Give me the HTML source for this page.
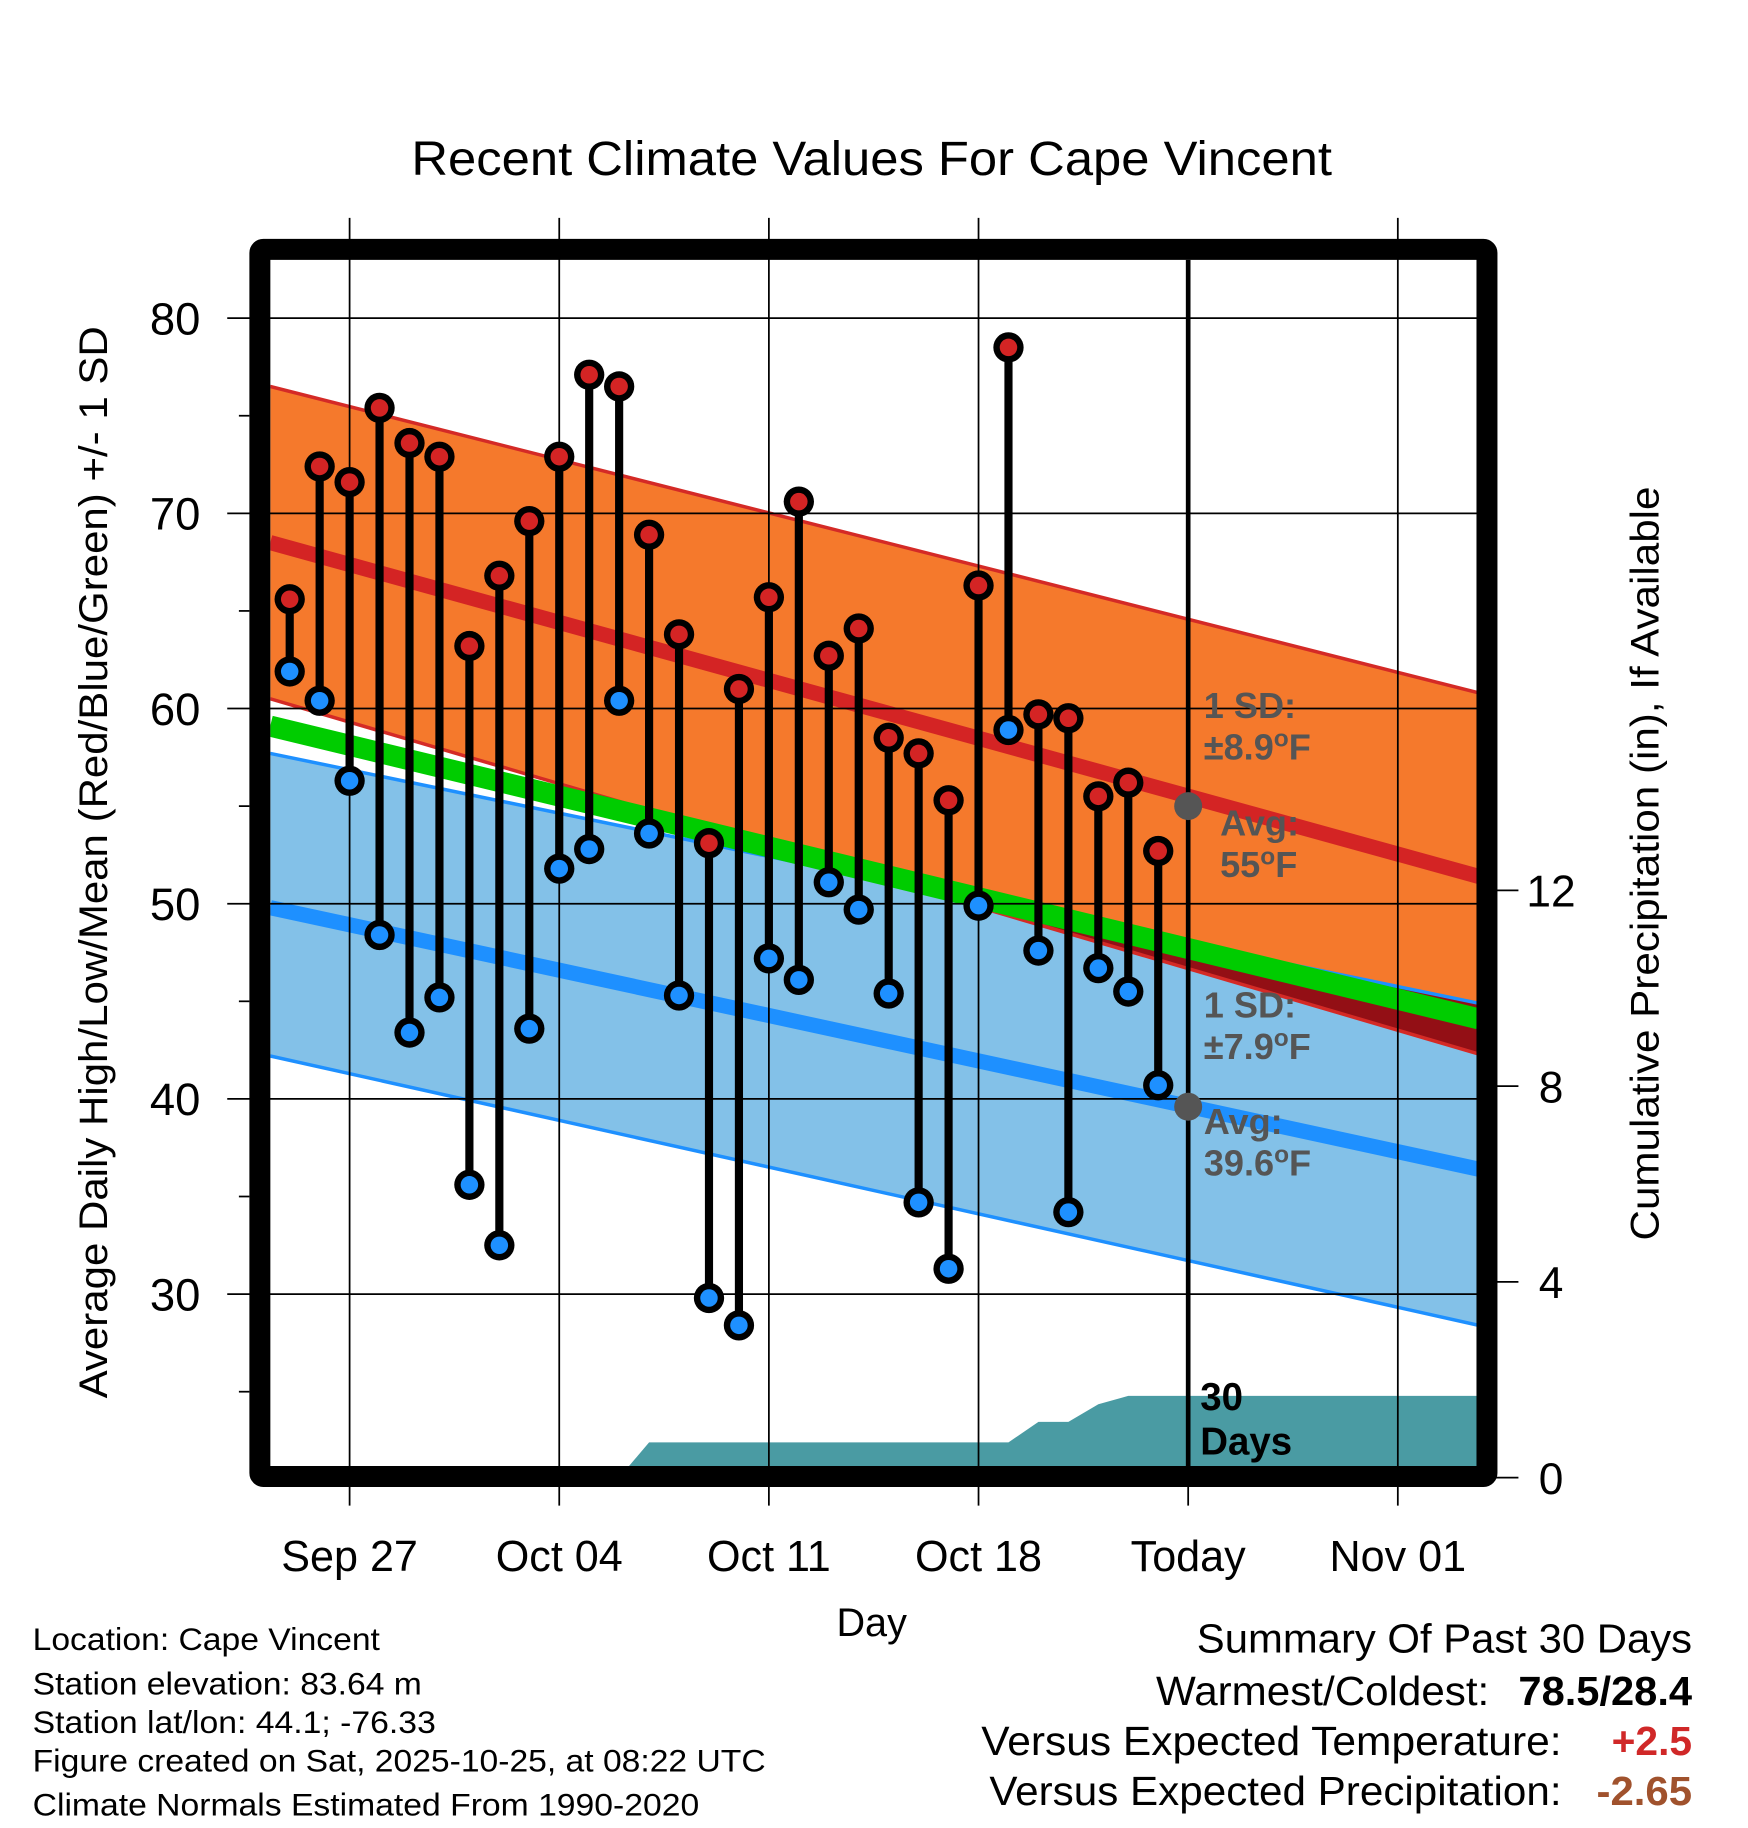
<!DOCTYPE html>
<html><head><meta charset="utf-8"><style>
html,body{margin:0;padding:0;background:#fff;}
svg{display:block;font-family:"Liberation Sans",Arial,sans-serif;}
</style></head><body>
<svg id="chart" width="1748" height="1828" viewBox="0 0 1500 1568.65" xmlns="http://www.w3.org/2000/svg">
<rect width="1500" height="1568.65" fill="#fff"/>
<defs><clipPath id="blueClip"><polygon id="blueClipPoly" points=""/></clipPath><clipPath id="plotClip"><rect x="232" y="223" width="1036" height="1035"/></clipPath></defs>
<g id="gPlot" clip-path="url(#plotClip)"></g>
<g id="gGrid"></g>
<g id="gMarks" clip-path="url(#plotClip)"></g>
<g id="gText"></g>
<text x="748" y="150" font-size="41" text-anchor="middle" textLength="790" lengthAdjust="spacingAndGlyphs">Recent Climate Values For Cape Vincent</text>
<text x="748" y="1404" font-size="34" text-anchor="middle">Day</text>
<text transform="translate(92,740) rotate(-90)" font-size="34" text-anchor="middle" textLength="920" lengthAdjust="spacingAndGlyphs">Average Daily High/Low/Mean (Red/Blue/Green) +/- 1 SD</text>
<text transform="translate(1423,741) rotate(-90)" font-size="34" text-anchor="middle" textLength="647" lengthAdjust="spacingAndGlyphs">Cumulative Precipitation (in), If Available</text>
<g font-size="27">
<text x="28" y="1416" textLength="298" lengthAdjust="spacingAndGlyphs">Location: Cape Vincent</text>
<text x="28" y="1454" textLength="334" lengthAdjust="spacingAndGlyphs">Station elevation: 83.64 m</text>
<text x="28" y="1487" textLength="346" lengthAdjust="spacingAndGlyphs">Station lat/lon: 44.1; -76.33</text>
<text x="28" y="1520" textLength="629" lengthAdjust="spacingAndGlyphs">Figure created on Sat, 2025-10-25, at 08:22 UTC</text>
<text x="28" y="1558" textLength="572" lengthAdjust="spacingAndGlyphs">Climate Normals Estimated From 1990-2020</text>
</g>
<g font-size="35">
<text x="1027" y="1418" textLength="425" lengthAdjust="spacingAndGlyphs">Summary Of Past 30 Days</text>
<text x="992" y="1463" textLength="286" lengthAdjust="spacingAndGlyphs">Warmest/Coldest:</text>
<text x="1303" y="1463" font-weight="bold" textLength="149" lengthAdjust="spacingAndGlyphs">78.5/28.4</text>
<text x="842" y="1506" textLength="498" lengthAdjust="spacingAndGlyphs">Versus Expected Temperature:</text>
<text x="1383" y="1506" font-weight="bold" fill="#d02828" textLength="69" lengthAdjust="spacingAndGlyphs">+2.5</text>
<text x="849" y="1549" textLength="491" lengthAdjust="spacingAndGlyphs">Versus Expected Precipitation:</text>
<text x="1370" y="1549" font-weight="bold" fill="#a0522d" textLength="82" lengthAdjust="spacingAndGlyphs">-2.65</text>
</g>
</svg>
<script>
// ---- data ----
const highs = [65.6,72.4,71.6,75.4,73.6,72.9,63.2,66.8,69.6,72.9,77.1,76.5,68.9,63.8,53.1,61.0,65.7,70.6,62.7,64.1,58.5,57.7,55.3,66.3,78.5,59.7,59.5,55.5,56.2,52.7];
const lows  = [61.9,60.4,56.3,48.4,43.4,45.2,35.6,32.5,43.6,51.8,52.8,60.4,53.6,45.3,29.8,28.4,47.2,46.1,51.1,49.7,45.4,34.7,31.3,49.9,58.9,47.6,34.2,46.7,45.5,40.7];
const precipCum = [0,0,0,0,0,0,0,0,0,0,0,0,0.72,0.72,0.72,0.72,0.72,0.72,0.72,0.72,0.72,0.72,0.72,0.72,0.72,1.14,1.14,1.5,1.67,1.67];
const firstDay = -2; // Sep 25 relative to Sep 27
const normDays = [-2.65, 37.7];
const normHighTop = [76.5, 60.8];
const normHigh = [68.5, 51.4];
const normHighBot = [60.5, 42.3];
const normMean = [59.1, 44.1];
const normLowTop = [57.7, 44.9];
const normLow = [49.8, 36.4];
const normLowBot = [42.2, 28.4];
const yTicks = [30,40,50,60,70,80];
const yMinor = [25,35,45,55,65,75];
const y2Ticks = [0,4,8,12];
const xTickDays = [0,7,14,21,28,35];
const xTickLabels = ["Sep 27","Oct 04","Oct 11","Oct 18","Today","Nov 01"];
const todayDay = 28, todayHigh = 55.0, todayLow = 39.6;

// ---- scales ----
const X = d => 300 + d*25.7;
const Y = t => 273 + (80 - t)*16.75;
const P = p => 1268 - p*42;
const NS = "http://www.w3.org/2000/svg";
function mk(tag, parent, attrs){const e=document.createElementNS(NS,tag);for(const k in attrs)e.setAttribute(k,attrs[k]);parent.appendChild(e);return e;}
const gPlot=document.getElementById('gPlot'), gGrid=document.getElementById('gGrid'), gMarks=document.getElementById('gMarks'), gText=document.getElementById('gText');
function band(top,bot){const x0=X(normDays[0]),x1=X(normDays[1]);return `${x0},${Y(top[0])} ${x1},${Y(top[1])} ${x1},${Y(bot[1])} ${x0},${Y(bot[0])}`;}

let e;
e=mk('polygon',gPlot,{points:band(normHighTop,normHighBot),fill:'#f5792c'});


e=mk('polygon',gPlot,{points:band(normLowTop,normLowBot),fill:'#83c1e8'});


document.getElementById('blueClipPoly').setAttribute('points',band(normLowTop,normLowBot));
e=mk('polygon',gPlot,{points:band(normHighTop,normHighBot),fill:'#930f15','clip-path':'url(#blueClip)'});


function line(arr,color,w,name){const l=mk('line',gPlot,{x1:X(normDays[0]),y1:Y(arr[0]),x2:X(normDays[1]),y2:Y(arr[1]),stroke:color,'stroke-width':w});}
line(normHighTop,'#d42a26',3,'high-sd-top-edge');
line(normHighBot,'#d42a26',3,'high-sd-bottom-edge');
line(normLowTop,'#1e90ff',3,'low-sd-top-edge');
line(normLowBot,'#1e90ff',3,'low-sd-bottom-edge');
line(normMean,'#00cc00',18,'normal-mean-line');
line(normHigh,'#d42424',13,'normal-high-line');
line(normLow,'#1e90ff',13,'normal-low-line');

let pp=[];
for(let i=0;i<precipCum.length;i++) pp.push(`${X(firstDay+i)},${P(precipCum[i])}`);
let pts = `${X(firstDay)},1270 ` + pp.join(' ') + ` 1270,${P(precipCum[precipCum.length-1])} 1270,1270`;
e=mk('polygon',gPlot,{points:pts,fill:'#4a9ba3'});



yTicks.forEach(t=>{
  e=mk('line',gGrid,{x1:195,y1:Y(t),x2:1268,y2:Y(t),stroke:'#000','stroke-width':1.5});
  
  
  e=mk('text',gGrid,{x:172,y:Y(t)+14,'font-size':39,'text-anchor':'end'});
  e.textContent=t;
  
  
});
yMinor.forEach(t=>{e=mk('line',gGrid,{x1:205,y1:Y(t),x2:214,y2:Y(t),stroke:'#000','stroke-width':1.5});});
y2Ticks.forEach(p=>{
  e=mk('line',gGrid,{x1:1280,y1:P(p),x2:1303,y2:P(p),stroke:'#000','stroke-width':1.5});
  
  
  e=mk('text',gGrid,{x:1331,y:P(p)+14,'font-size':38,'text-anchor':'middle'});
  e.textContent=p;
  
  
});
xTickDays.forEach((d,i)=>{
  if(d!==todayDay){e=mk('line',gGrid,{x1:X(d),y1:187,x2:X(d),y2:1292,stroke:'#000','stroke-width':1.5});}
  else {e=mk('line',gGrid,{x1:X(d),y1:1270,x2:X(d),y2:1292,stroke:'#000','stroke-width':1.5});}
  
  
  e=mk('text',gGrid,{x:X(d),y:1348,'font-size':37,'text-anchor':'middle'});
  e.textContent=xTickLabels[i];
  
  
});
e=mk('line',gGrid,{x1:X(todayDay),y1:223,x2:X(todayDay),y2:1262,stroke:'#000','stroke-width':4});



e=mk('rect',gGrid,{x:223,y:214,width:1053,height:1053,fill:'none',stroke:'#000','stroke-width':18,rx:3});



highs.forEach((h,i)=>{
  const x=X(firstDay+i);
  const s=mk('line',gMarks,{x1:x,y1:Y(h),x2:x,y2:Y(lows[i]),stroke:'#000','stroke-width':7});
  
  
});
highs.forEach((h,i)=>{
  const x=X(firstDay+i);
  [[h,'#d42424','high-point'],[lows[i],'#1e90ff','low-point']].forEach(([v,c,n])=>{
    const o=mk('circle',gMarks,{cx:x,cy:Y(v),r:13,fill:'#000'});
    
    
    const p=mk('circle',gMarks,{cx:x,cy:Y(v),r:7.5,fill:c});
    
    
  });
});
[todayHigh,todayLow].forEach(v=>{
  e=mk('circle',gMarks,{cx:X(todayDay),cy:Y(v),r:12,fill:'#555'});
  
  
});
function ann(x,y,l1,l2,name,color,size){
  const t=mk('text',gText,{x:x,y:y,'font-size':size,'font-weight':'bold',fill:color});
  
  
  const a=mk('tspan',t,{x:x});a.innerHTML=l1;
  const b=mk('tspan',t,{x:x,dy:size*1.15});b.innerHTML=l2;
}
ann(1033,616,'1 SD:','±8.9<tspan dy="-11" font-size="21">o</tspan><tspan dy="11">F</tspan>','high-sd-label','#555',31);
ann(1047,717,'Avg:','55<tspan dy="-11" font-size="21">o</tspan><tspan dy="11">F</tspan>','high-avg-label','#555',31);
ann(1033,873,'1 SD:','±7.9<tspan dy="-11" font-size="21">o</tspan><tspan dy="11">F</tspan>','low-sd-label','#555',31);
ann(1033,973,'Avg:','39.6<tspan dy="-11" font-size="21">o</tspan><tspan dy="11">F</tspan>','low-avg-label','#555',31);
ann(1030,1210,'30','Days','precip-days-label','#000',33);
</script>
</body></html>
